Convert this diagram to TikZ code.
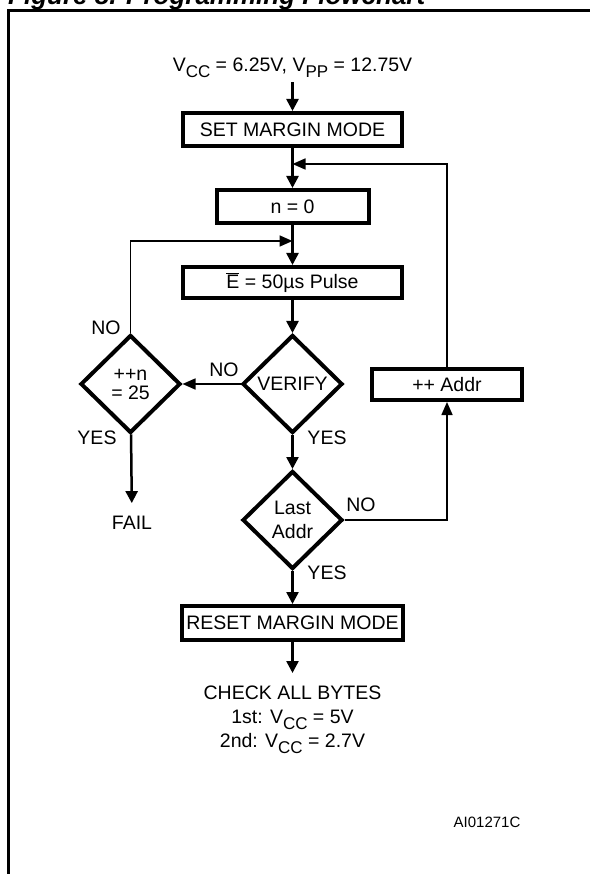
\documentclass[tikz,border=0pt]{standalone}
\usepackage{fontspec}
\setmainfont{Liberation Sans}
\usetikzlibrary{arrows.meta,shapes.geometric,positioning}

\newcommand{\vsub}[1]{V\raisebox{-6pt}{\fontsize{17}{17}\selectfont #1}}

\begin{document}
\begin{tikzpicture}[x = 1pt, y = -1pt,
  txt/.style = {font = \fontsize{19.5}{24}\selectfont, inner sep = 0pt},
  box/.style = {txt, draw, line width = 4pt, minimum width = #1},
  dia/.style = {txt, draw, line width = 4pt, shape = diamond, aspect = 1,
    minimum width = 100, minimum height = 98, align = center},
  arr/.style = {line width = 2.5pt, -{Triangle[length = 12pt, width = 12pt]}},
  back/.style = {line width = 1.6pt, -{Triangle[length = 13pt, width = 11pt]}}]
\useasboundingbox (0,0) rectangle (589,874);
% frame and title
\node[anchor = base west, inner sep = 0pt,
  font = \fontsize{26}{26}\selectfont\bfseries\itshape] (title) at (8,5) {Figure 8. Programming Flowchart};
\draw[line width = 3pt] (8,880) -- (8,11) -- (595,11);
% main column
\node[txt, anchor = base, inner ysep = 4pt] (vcc) at (292.5,72) {\vsub{CC} = 6.25V, \vsub{PP} = 12.75V};
\node[box = 219, minimum height = 33] (set) at (292.5,129.5) {SET MARGIN MODE};
\node[box = 152, minimum height = 33] (n0) at (292.5,206.5) {n = 0};
\node[box = 219, minimum height = 31] (pulse) at (292.5,282.5) {$\overline{\mbox{E}}$ = 50µs Pulse};
\node[dia] (verify) at (292.5,384) {VERIFY};
\node[dia] (count) at (130.5,384) {++n\\[-5pt]= 25};
\node[dia] (last) at (292.5,520) {Last\\Addr};
\node[box = 150, minimum height = 31] (addr) at (447,384.5) {++ Addr};
\node[box = 221, minimum height = 34] (reset) at (292.5,623) {RESET MARGIN MODE};
\node[txt, inner ysep = 13pt] (fail) at (132,523) {FAIL};
\node[txt, anchor = north, align = center, inner ysep = 13pt] (check) at (292.5,673)
  {CHECK ALL BYTES\\1st: \vsub{CC} = 5V\\2nd: \vsub{CC} = 2.7V};
\node[txt, font = \fontsize{15}{15}\selectfont] (code) at (487,822) {AI01271C};
\coordinate (j1) at (292.5,241);
\coordinate (j2) at (292.5,164);
% connectors
\draw[arr] (vcc) -- (set);
\draw[arr] (set) -- (n0);
\draw[arr] (n0) -- (pulse);
\draw[arr] (pulse) -- (verify);
\draw[arr] (verify) -- (last);
\draw[arr] (last) -- (reset);
\draw[arr] (reset) -- (check);
\draw[arr] (count) -- (fail);
\draw[back] (verify) -- (count);
\draw[back] (count.north) |- (j1);
\draw[back] (last.east) -| (addr.south);
\draw[back] (addr.north) |- (j2);
% branch labels
\node[txt] (no1) at (106,328) {NO};
\node[txt] (no2) at (224,370) {NO};
\node[txt] (yes1) at (97,438) {YES};
\node[txt] (yes2) at (327,438) {YES};
\node[txt] (no3) at (361,505) {NO};
\node[txt] (yes3) at (327,573) {YES};
\end{tikzpicture}
\end{document}
